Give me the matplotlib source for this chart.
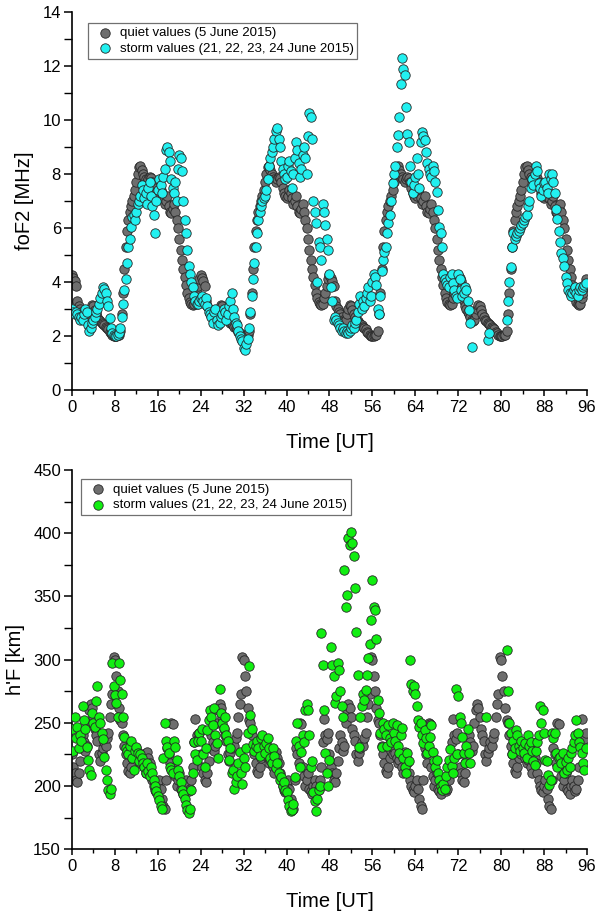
import numpy as np
import matplotlib
matplotlib.use("Agg")
import matplotlib.pyplot as plt
from matplotlib.ticker import MultipleLocator

plt.rcParams['font.family'] = ['Liberation Sans', 'DejaVu Sans']

nan = float('nan')
SAMPLES_PER_HOUR = 4          # 15-min ionosonde cadence
N_DAYS = 4

# ---------------------------------------------------------------- foF2 [MHz]
# quiet reference day (5 June 2015), one row per hour
quiet_fof2_day = [
    4.25, 4.15, 4.05, 3.85,
    3.30, 3.10, 3.00, 2.90,
    2.80, 2.70, 2.60, 2.55,
    2.60, 2.80, 3.00, 3.15,
    3.10, 2.95, 2.80, 2.70,
    2.60, 2.55, 2.50, 2.45,
    2.40, 2.35, 2.30, 2.25,
    2.15, 2.10, 2.05, 2.00,
    2.00, 2.00, 2.02, 2.05,
    2.20, 2.80, 3.60, 4.50,
    5.30, 5.90, 6.30, 6.60,
    6.80, 7.00, 7.20, 7.40,
    7.70, 8.00, 8.25, 8.30,
    8.15, 8.00, 7.90, 7.80,
    7.70, 7.80, 7.90, 7.85,
    7.70, 7.50, 7.30, 7.20,
    7.10, 7.20, 7.40, 7.30,
    7.10, 6.90, 7.00, 7.20,
    6.80, 6.60, 6.55, 6.70,
    6.90, 6.60, 6.30, 6.00,
    5.60, 5.20, 4.80, 4.50,
    4.20, 3.90, 3.60, 3.40,
    3.25, 3.20, 3.15, 3.20,
    3.40, 3.60, 3.85, 4.10,
]

storm_fof2_21 = [
    3.0, 2.9, 2.8, 2.9,
    2.8, 2.7, 2.6, 2.7,
    2.6, 2.8, 3.0, 2.9,
    2.4, 2.2, 2.3, 2.5,
    2.6, 2.7, 2.9, 3.0,
    3.2, 3.4, 3.6, 3.8,
    3.75, 3.6, 3.3, 3.1,
    2.65, 2.3, 2.1, 2.05,
    2.0, 2.0, 2.05, 2.1,
    2.3, 2.7, 3.2, 3.7,
    4.1, 4.7, 5.3, 5.6,
    6.05, 6.4, 6.5, 6.3,
    6.6, 6.9, 7.0, 7.2,
    7.6, 7.4, 7.1, 7.3,
    6.9, 7.5, 7.7, 7.2,
    6.8, 6.5, 5.8, 7.0,
    7.4, 7.8, 7.6, 7.3,
    7.9, 8.2, 8.9, 9.0,
    8.8, 8.5, 7.8, 7.5,
    7.3, 7.7, 7.0, 8.2,
    8.7, 8.6, 8.1, 7.0,
    6.3, 5.8, 5.2, 4.6,
    4.3, 4.0, 3.8, 3.5,
    3.3, 3.2, 3.2, 3.3,
]

storm_fof2_22 = [
    3.4, 3.5, 3.3, 3.2,
    3.4, 3.1, 2.9, 2.8,
    2.7, 2.5, 2.9, 3.0,
    2.6, 2.4, 2.5, 2.7,
    2.8, 3.0, 2.9, 2.6,
    2.8, 3.1, 3.3, 3.6,
    3.0, 2.7, 2.5, 2.4,
    2.2, 2.0, 1.9, 1.8,
    1.55, 1.5, 1.7, 1.9,
    2.3, 2.9, 3.5, 4.1,
    4.7, 5.3, 5.8, 6.3,
    6.6, 6.8, 7.0, 7.1,
    7.2, 7.4, 7.8, 8.3,
    8.6, 8.8, 9.0, 9.3,
    9.6, 9.7, 9.3, 9.0,
    8.5, 8.2, 8.0, 7.8,
    7.9, 8.3, 8.5, 8.1,
    7.5, 8.0, 8.6, 9.2,
    8.9, 8.4, 7.9, 8.2,
    8.7, 9.0, 8.6, 8.0,
    9.4, 10.25, 10.1, 9.3,
    7.0, 6.6, 6.2, 4.0,
    5.5, 5.3, 4.8, 6.9,
    6.6, 6.1, 5.6, 5.2,
]

storm_fof2_23 = [
    4.3, 3.8, 3.3, 2.6,
    2.7, 2.6, 2.5, 2.4,
    2.3, 2.2, 2.3, 2.2,
    2.1, 2.2, 2.1, 2.2,
    2.3, 2.4, 2.3, 2.5,
    2.6, 2.9, 3.2, 3.5,
    3.0, 3.3, 3.1, 3.4,
    3.6, 3.8, 3.3, 3.5,
    4.0, 4.3, 4.2, 3.9,
    3.0, 2.8, 3.5, 4.4,
    4.8, 5.1, 5.3, 5.8,
    6.2, 6.5, 7.0, 7.65,
    8.0, 8.3, 9.0, 9.45,
    10.1, 11.35, 12.3, 11.9,
    11.65, 10.5, 9.5, 9.2,
    8.3, 7.7, 7.3, 7.6,
    7.9, 8.6, 8.0, 7.5,
    9.2, 9.57, 9.4, 9.26,
    8.8, 8.4, 8.2, 8.0,
    7.9, 8.3, 8.1, 7.7,
    7.35, 6.65, 6.05, 5.8,
    5.3, 4.3, 4.1, 4.0,
    3.9, 3.8, 4.2, 4.3,
    3.95, 3.7, 3.5, 3.4,
]

storm_fof2_24 = [
    4.3, 4.1, 3.7, 3.5,
    3.6, 3.8, 3.7, 3.3,
    2.95, 2.5, 1.6, nan,
    nan, nan, nan, nan,
    nan, nan, nan, nan,
    nan, nan, 1.85, 2.1,
    nan, nan, nan, nan,
    nan, nan, nan, nan,
    nan, nan, nan, nan,
    2.6, 3.3, 4.0, 4.55,
    5.3, 5.8, 5.6, 5.7,
    5.8, 5.9, 6.0, 6.1,
    6.2, 6.3, 6.4, 6.5,
    6.8, 7.0, 7.5, 7.8,
    7.6, 8.0, 8.3, 8.1,
    7.65, 7.5, 7.2, 7.4,
    7.65, 7.7, 7.5, 7.3,
    8.0, 7.8, 8.0, 7.7,
    7.3, 6.7, 6.35, 5.9,
    5.5, 5.06, 4.9, 4.6,
    4.2, 3.95, 3.7, 3.6,
    3.5, 3.6, 3.7, 3.8,
    3.6, 3.5, 3.7, 3.8,
    3.7, 3.8, 3.9, 3.95,
]

# ---------------------------------------------------------------- h'F [km]
quiet_hf_day = [
    225, 215, 210, 205,
    203, 210, 220, 230,
    240, 235, 228, 232,
    250, 260, 265, 262,
    255, 245, 240, 236,
    225, 220, 226, 230,
    235, 232, 238, 242,
    255, 265, 273, 302,
    300, 287, 275, 262,
    252, 250, 240, 232,
    225, 218, 212, 210,
    215, 222, 228, 225,
    230, 226, 222, 218,
    221, 225, 215, 210,
    227, 222, 218, 210,
    205, 200, 197, 195,
    200, 205, 198, 190,
    184, 182, 205, 230,
    225, 218, 250, 249,
    215, 208, 200, 205,
    210, 198, 196, 194,
    200, 205, 200, 196,
    198, 205, 215, 235,
    253, 240, 237, 242,
]

storm_hf_21 = [
    245, 228, 255, 238,
    247, 230, 240, 236,
    263, 252, 245, 231,
    221, 213, 209, 258,
    250, 247, 267, 279,
    255, 250, 242, 237,
    223, 213, 205, 197,
    194, 198, 297, 279,
    272, 266, 255, 297,
    284, 273, 255, 239,
    230, 228, 225, 232,
    236, 222, 213, 228,
    231, 226, 220, 225,
    222, 218, 215, 210,
    218, 212, 208, 215,
    210, 205, 200, 196,
    192, 189, 184, 182,
    222, 250, 236, 231,
    226, 215, 213, 210,
    236, 231, 221, 213,
    208, 203, 197, 194,
    190, 185, 181, 179,
    182, 197, 210, 235,
    225, 221, 236, 242,
]

storm_hf_22 = [
    236, 245, 225, 215,
    230, 244, 252, 260,
    255, 248, 262, 240,
    234, 222, 277, 258,
    250, 246, 255, 240,
    236, 221, 230, 210,
    213, 198, 203, 208,
    218, 227, 210, 202,
    222, 215, 230, 242,
    295, 256, 245, 233,
    228, 232, 236, 230,
    224, 238, 240, 232,
    226, 234, 238, 230,
    222, 218, 230, 224,
    214, 218, 210, 205,
    207, 200, 203, 197,
    195, 189, 184, 180,
    181, 186, 207, 236,
    250, 232, 215, 227,
    240, 235, 260, 265,
    260, 240, 215, 220,
    195, 188, 180, 190,
    197, 200, 321, 296,
    260, 226, 210, 200,
]

storm_hf_23 = [
    221, 310, 296, 287,
    266, 271, 297, 292,
    275, 263, 255, 371,
    342, 351, 396, 391,
    401, 392, 382, 357,
    322, 288, 231, 255,
    263, 273, 268, 276,
    288, 301, 312, 331,
    363, 342, 339, 316,
    268, 258, 242, 231,
    250, 245, 240, 232,
    248, 238, 235, 250,
    242, 236, 248, 232,
    226, 240, 246, 222,
    215, 210, 226, 220,
    300, 281, 275, 279,
    273, 263, 252, 247,
    250, 240, 234, 244,
    238, 226, 232, 239,
    248, 227, 220, 215,
    221, 210, 205, 200,
    197, 202, 198, 208,
    215, 221, 229, 216,
    210, 222, 277, 225,
]

storm_hf_24 = [
    271, 255, 250, 239,
    226, 218, 232, 245,
    226, 218, nan, nan,
    nan, nan, nan, nan,
    nan, nan, nan, nan,
    nan, 255, nan, nan,
    nan, nan, nan, nan,
    nan, nan, nan, nan,
    nan, nan, nan, nan,
    308, 275, 250, 242,
    225, 236, 230, 244,
    240, 232, 228, 236,
    230, 226, 234, 222,
    240, 232, 235, 228,
    220, 217, 228, 235,
    240, 263, 250, 260,
    242, 221, 220, 209,
    201, 205, 242, 238,
    242, 226, 215, 222,
    223, 218, 226, 210,
    219, 213, 222, 215,
    226, 230, 235, 240,
    252, 242, 235, 231,
    226, 218, 213, 230,
]

QUIET_LABEL = "quiet values (5 June 2015)"
STORM_LABEL = "storm values (21, 22, 23, 24 June 2015)"

# quiet day is repeated under each of the four storm days
quiet_fof2 = np.tile(np.array(quiet_fof2_day, dtype=float), N_DAYS)
quiet_hf = np.tile(np.array(quiet_hf_day, dtype=float), N_DAYS)
storm_fof2 = np.concatenate([storm_fof2_21, storm_fof2_22, storm_fof2_23, storm_fof2_24]).astype(float)
storm_hf = np.concatenate([storm_hf_21, storm_hf_22, storm_hf_23, storm_hf_24]).astype(float)
t = np.arange(len(storm_fof2)) / SAMPLES_PER_HOUR

QUIET_COLOR = '#6e6e6e'
EDGE = '#262626'
MS = 46

fig = plt.figure(figsize=(6.04, 9.13), dpi=100)
ax1 = fig.add_axes([0.1192, 0.5728, 0.8526, 0.4140])
ax2 = fig.add_axes([0.1192, 0.0698, 0.8526, 0.4154])


def style_axes(ax, ylim, ymajor, yminor, ylabel):
    ax.set_xlim(0, 96)
    ax.set_ylim(*ylim)
    ax.xaxis.set_major_locator(MultipleLocator(8))
    ax.xaxis.set_minor_locator(MultipleLocator(4))
    ax.yaxis.set_major_locator(MultipleLocator(ymajor))
    ax.yaxis.set_minor_locator(MultipleLocator(yminor))
    for side in ('top', 'right'):
        ax.spines[side].set_visible(False)
    for side in ('left', 'bottom'):
        ax.spines[side].set_linewidth(1.2)
    ax.tick_params(axis='x', which='major', direction='out', length=4.5, width=1.1,
                   labelsize=12, pad=2.5)
    ax.tick_params(axis='x', which='minor', direction='out', length=3, width=1.0)
    ax.tick_params(axis='y', which='major', direction='out', length=5.5, width=1.1,
                   labelsize=12, pad=2.5)
    ax.tick_params(axis='y', which='minor', direction='out', length=5.5, width=1.0)
    ax.set_xlabel("Time [UT]", fontsize=14.5, labelpad=13)
    ax.set_ylabel(ylabel, fontsize=14.5, labelpad=6)


def draw_panel(ax, quiet, storm, storm_color):
    hq = ax.scatter(t, quiet, s=MS, c=QUIET_COLOR, edgecolors=EDGE, linewidths=0.6,
                    zorder=2, label=QUIET_LABEL)
    hs = ax.scatter(t, storm, s=MS, c=storm_color, edgecolors=EDGE, linewidths=0.6,
                    zorder=3, label=STORM_LABEL)
    return hq, hs


def add_legend(ax, anchor):
    leg = ax.legend(loc='upper left', bbox_to_anchor=anchor, borderaxespad=0,
                    fontsize=9.5, frameon=True, fancybox=False, edgecolor='#707070',
                    framealpha=1, borderpad=0.3, labelspacing=0.25,
                    handlelength=2.0, handletextpad=0.1, scatterpoints=1)
    leg.get_frame().set_linewidth(0.9)
    return leg


draw_panel(ax1, quiet_fof2, storm_fof2, '#22f0f0')
style_axes(ax1, (0, 14), 2, 1, "foF2 [MHz]")
add_legend(ax1, (0.031, 0.971))

draw_panel(ax2, quiet_hf, storm_hf, '#11ee11')
style_axes(ax2, (150, 450), 50, 25, "h'F [km]")
add_legend(ax2, (0.0175, 0.975))

fig.savefig("out.png", dpi=100)
